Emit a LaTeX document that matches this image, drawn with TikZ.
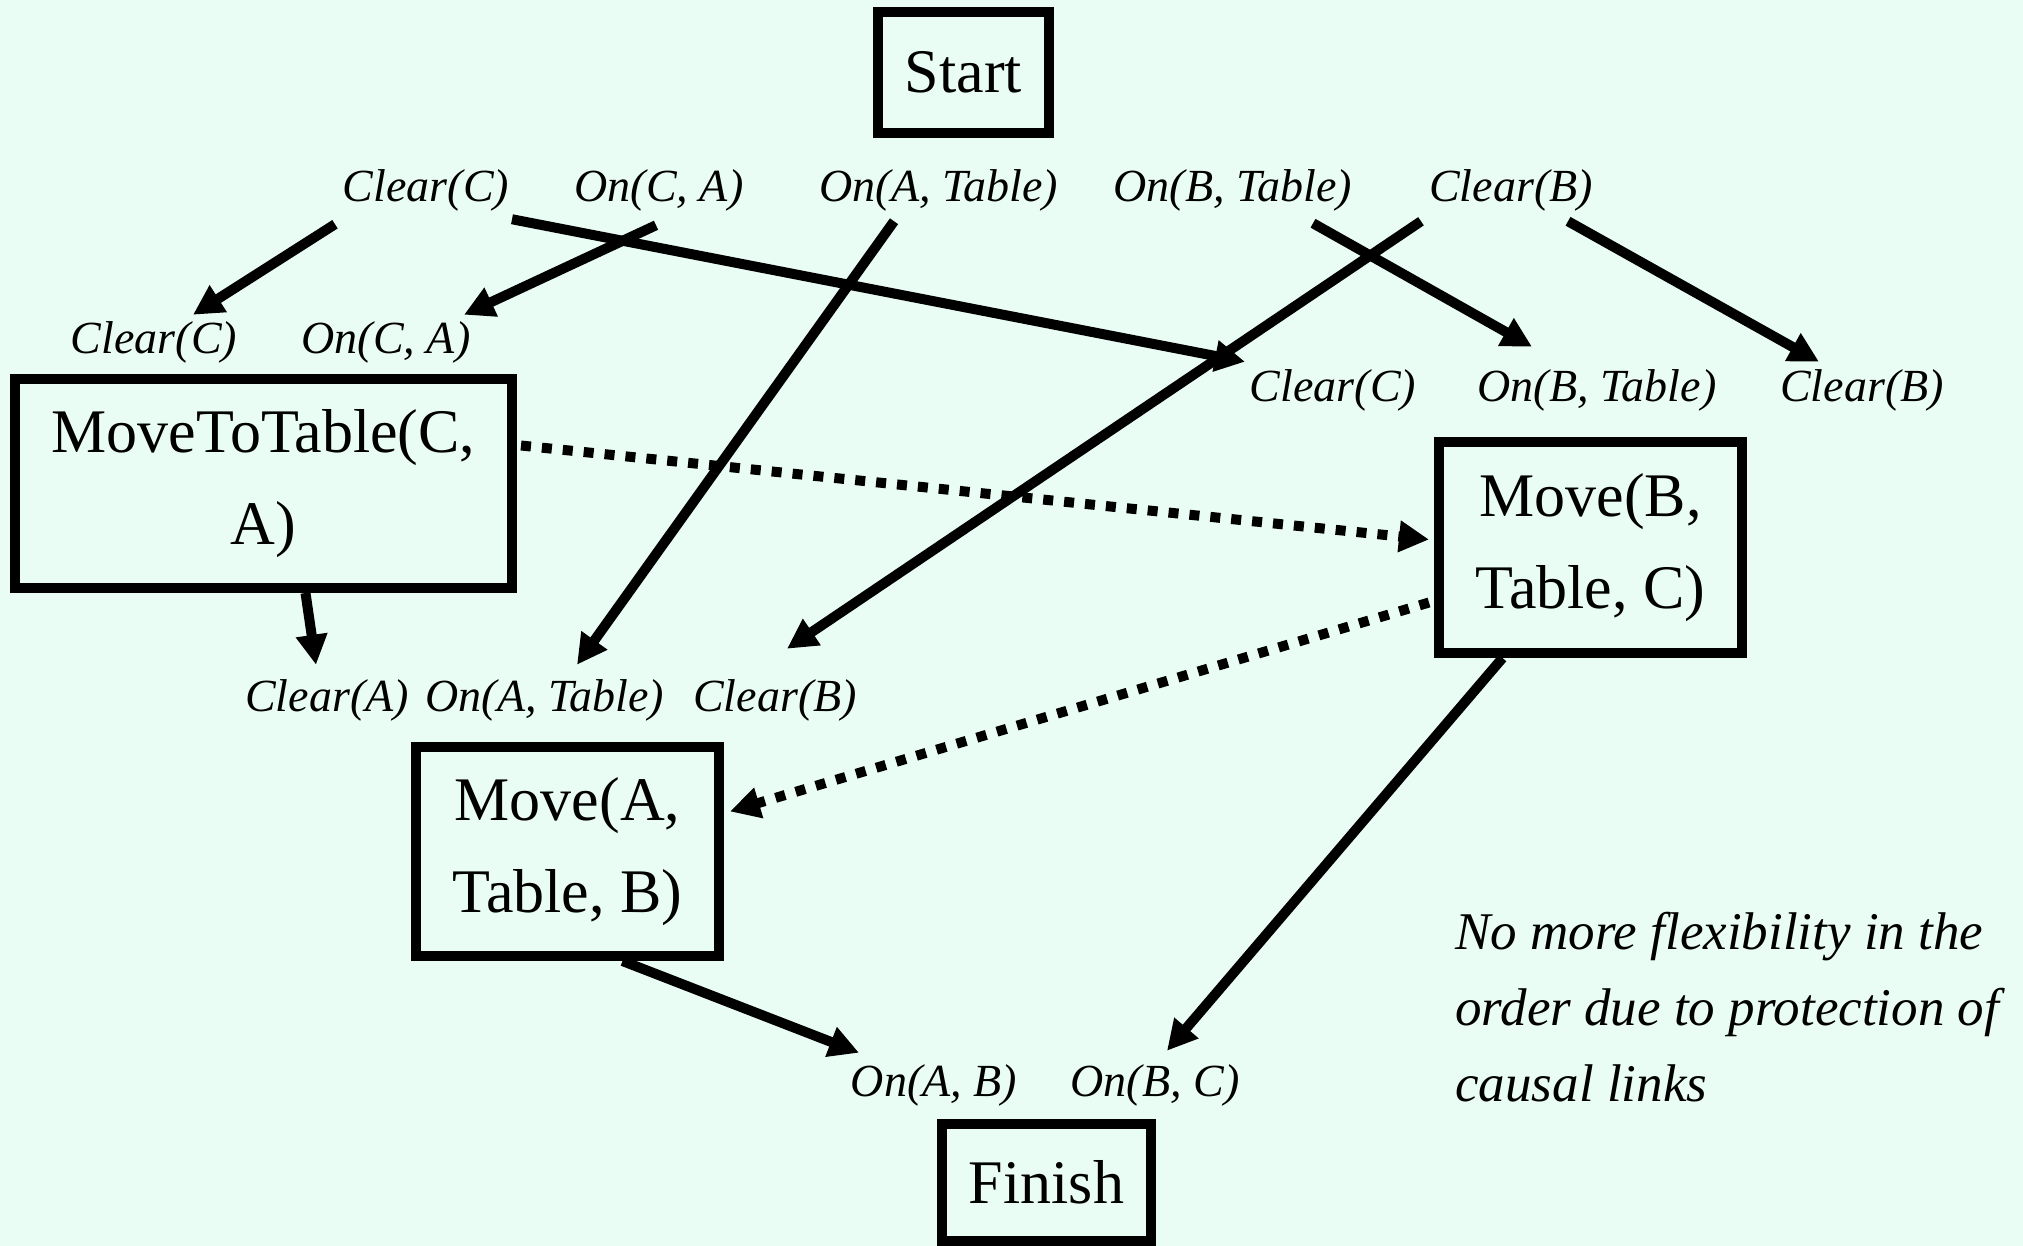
\documentclass[tikz,border=0pt]{standalone}
\usepackage{fontspec}
\setmainfont{Liberation Serif}
\usetikzlibrary{arrows.meta}
\definecolor{mintbg}{RGB}{234,253,244}

\begin{document}
\begin{tikzpicture}[x=0.5pt,y=0.5pt,yscale=-1,xscale=1,
  act/.style={draw, line width=5pt, inner sep=0pt, align=center, font=\fontsize{31}{46}\selectfont},
  cond/.style={inner sep=0pt, font=\fontsize{23}{28}\selectfont\itshape},
  link/.style={line width=5pt, -{Triangle[length=15pt,width=15pt]}},
  order/.style={link, dash pattern=on 5pt off 5.5pt}]
\useasboundingbox (0,0) rectangle (2023,1246);
\fill[mintbg] (0,0) rectangle (2023,1246);

% Action Nodes
\draw (963.5,72.5) node [act, minimum width=85.5pt, minimum height=60.5pt] (start) {Start};
\draw (263.5,483.5) node [act, minimum width=248.5pt, minimum height=104.5pt] (mtt) {MoveToTable(C,\\A)};
\draw (1590.5,547.5) node [act, minimum width=151.5pt, minimum height=105.5pt] (mbtc) {Move(B,\\Table, C)};
\draw (567.5,851.5) node [act, minimum width=151.5pt, minimum height=104.5pt] (matb) {Move(A,\\Table, B)};
\draw (1046.5,1182.5) node [act, minimum width=104.5pt, minimum height=58.5pt] (finish) {Finish};

% Text Node
\draw (426,190) node [cond] (sClrC) {Clear(C)};
\draw (659,190) node [cond] (sOnCA) {On(C, A)};
\draw (939,190) node [cond] (sOnAT) {On(A, Table)};
\draw (1233,190) node [cond] (sOnBT) {On(B, Table)};
\draw (1511,190) node [cond] (sClrB) {Clear(B)};
% Text Node
\draw (154,342) node [cond] (pClrC) {Clear(C)};
\draw (386,342) node [cond] (pOnCA) {On(C, A)};
% Text Node
\draw (1333,390) node [cond] (qClrC) {Clear(C)};
\draw (1597,390) node [cond] (qOnBT) {On(B, Table)};
\draw (1862,390) node [cond] (qClrB) {Clear(B)};
% Text Node
\draw (327,700) node [cond] (rClrA) {Clear(A)};
\draw (545,700) node [cond] (rOnAT) {On(A, Table)};
\draw (775,700) node [cond] (rClrB) {Clear(B)};
% Text Node
\draw (934,1085) node [cond] (fOnAB) {On(A, B)};
\draw (1155,1085) node [cond] (fOnBC) {On(B, C)};
% Text Node
\draw (1455,912) node [anchor=north west, inner sep=0pt, align=left, font=\fontsize{26.5}{38}\selectfont\itshape] (note) {No more flexibility in the\\order due to protection of\\causal links};

%Straight Lines
\draw [link] ([shift={(-91,13)}]sClrC.south) -- ([shift={(39,-6)}]pClrC.north);
\draw [link] ([shift={(-3,14)}]sOnCA.south) -- ([shift={(78,-6)}]pOnCA.north);
\draw [link] ([shift={(86,8)}]sClrC.south) -- ([shift={(-88,-7)}]qClrC.north);
\draw [link] ([shift={(-45,10)}]sOnAT.south) -- ([shift={(32,-14)}]rOnAT.north);
\draw [link] ([shift={(-90,10)}]sClrB.south) -- ([shift={(12,-30)}]rClrB.north);
\draw [link] ([shift={(80,12)}]sOnBT.south) -- ([shift={(-65,-22)}]qOnBT.north);
\draw [link] ([shift={(57,10)}]sClrB.south) -- ([shift={(-43,-7)}]qClrB.north);
\draw [link] ([shift={(42,0)}]mtt.south) -- ([shift={(-11,-14)}]rClrA.north);
\draw [link] ([shift={(55,0)}]matb.south) -- ([shift={(-75,-11)}]fOnAB.north);
\draw [link] ([shift={(-88,0)}]mbtc.south) -- ([shift={(12,-13)}]fOnBC.north);
%Dotted Lines
\draw [order] ([shift={(4,-38)}]mtt.east) -- ([shift={(-5,-8)}]mbtc.west);
\draw [order] ([shift={(-5,55)}]mbtc.west) -- ([shift={(6,-40)}]matb.east);

\end{tikzpicture}
\end{document}
